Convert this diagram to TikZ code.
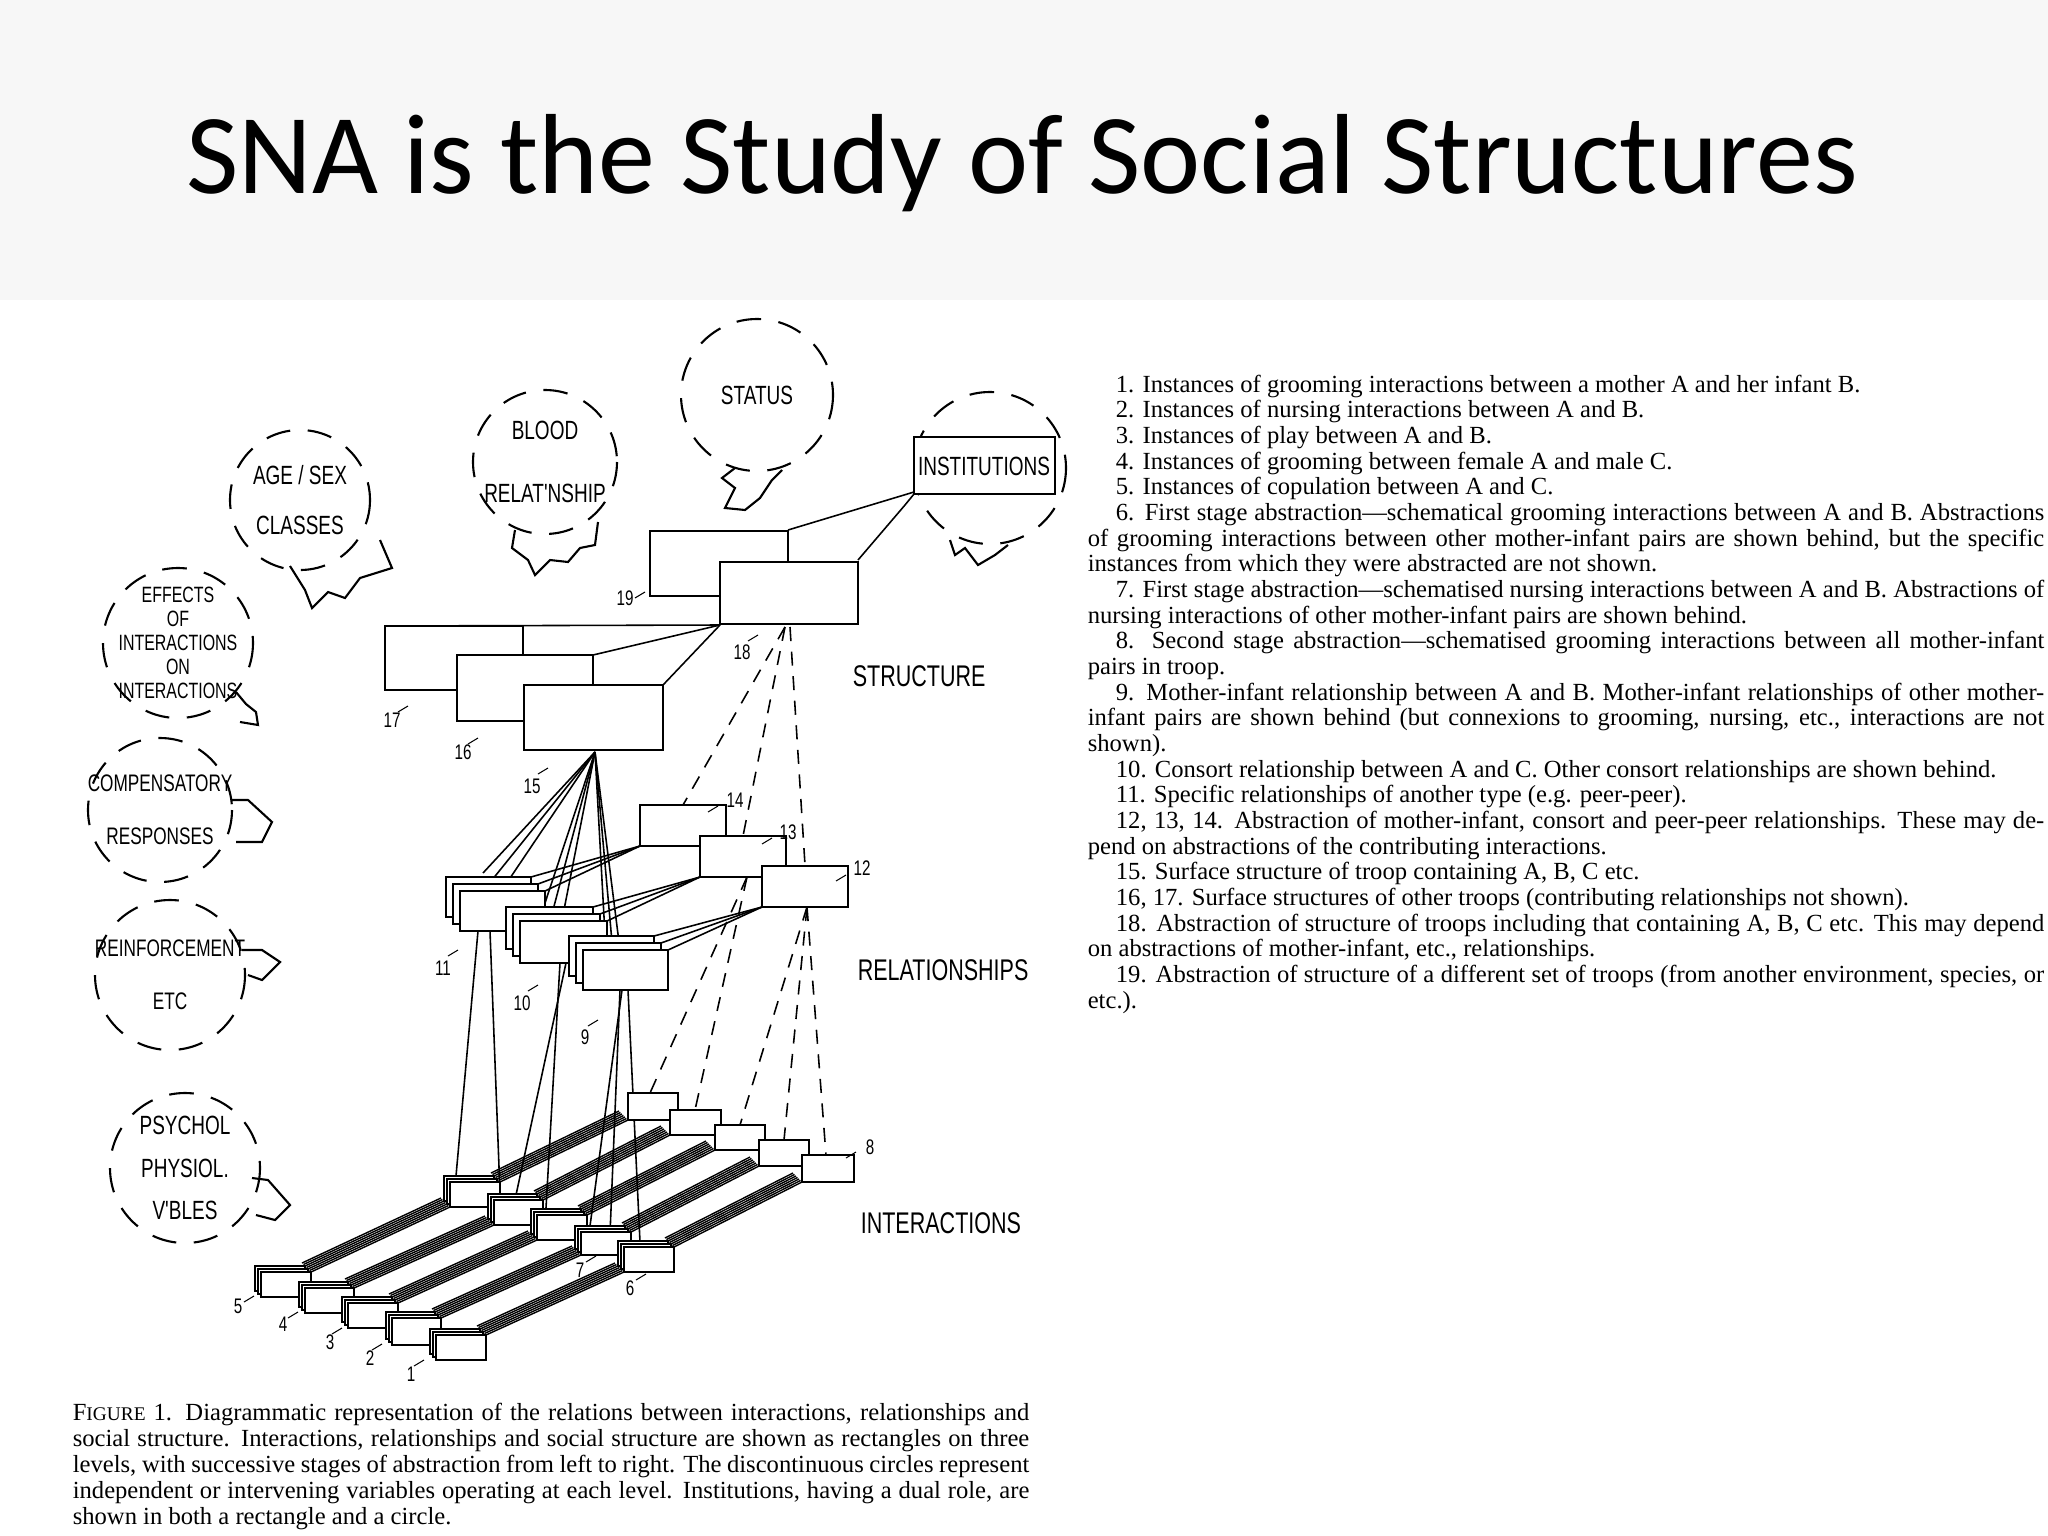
\documentclass[tikz,border=0pt]{standalone}
\usepackage{fontspec}
\setmainfont{Liberation Serif}
\newfontfamily\titlefont{Carlito}
\newfontfamily\hand[FakeStretch=0.72]{Liberation Sans}
\begin{document}
\begin{tikzpicture}[x=0.01cm,y=-0.01cm,line width=0.45pt,
  bub/.style={dashed,dash pattern=on 7pt off 5pt,line width=0.6pt},
  bx/.style={draw,fill=white},
  dl/.style={dashed,dash pattern=on 4pt off 3pt},
  lab/.style={font=\hand\fontsize{7.5}{8}\selectfont,inner sep=0pt,align=center},
  num/.style={font=\hand\fontsize{6}{6}\selectfont,inner sep=0pt}]
\useasboundingbox[fill=white] (0,0) rectangle (2048,1536);
\fill[black!3] (0,0) rectangle (2048,300);
\node[font=\titlefont\fontsize{32.4}{34}\selectfont,anchor=base] (title) at (1022,193) {SNA is the Study of Social Structures};
% ---------- bubbles ----------
\newcommand\bubble[5]{\draw[bub] (#1,#2) circle[radius=#3];\node[lab,#5] at (#1,#2) {#4};}
\bubble{300}{500}{70}{AGE / SEX\\[6pt]CLASSES}{}
\bubble{545}{462}{72}{BLOOD\\[10pt]RELAT'NSHIP}{}
\bubble{757}{395}{76}{STATUS}{}
\bubble{990}{468}{76}{}{}
\bubble{178}{643}{75}{EFFECTS\\OF\\INTERACTIONS\\ON\\INTERACTIONS}{font=\hand\fontsize{6.3}{6.8}\selectfont}
\bubble{160}{810}{72}{COMPENSATORY\\[8pt]RESPONSES}{font=\hand\fontsize{6.8}{7}\selectfont}
\bubble{170}{975}{75}{REINFORCEMENT\\[8pt]ETC}{font=\hand\fontsize{6.8}{7}\selectfont}
\bubble{185}{1168}{75}{PSYCHOL\\[4pt]PHYSIOL.\\[4pt]V'BLES}{}
\draw[bx] (914,437) rectangle (1055,494);
\node[lab] (inst) at (984,466) {INSTITUTIONS};
% tails
\begin{scope}[line width=0.6pt]
\draw (290,566)--(305,590)--(312,608)--(328,592)--(345,598)--(360,578)--(392,568)--(380,540);
\draw (515,530)--(512,548)--(528,560)--(535,575)--(550,560)--(568,562)--(580,548)--(595,545)--(598,522);
\draw (735,468)--(722,478)--(735,488)--(725,508)--(745,510)--(760,498)--(772,480)--(782,470);
\draw (950,540)--(955,555)--(965,548)--(978,565)--(995,555)--(1008,545);
\draw (236,692)--(246,704)--(256,712)--(258,725)--(240,722);
\draw (232,800)--(248,800)--(272,822)--(262,842)--(236,842);
\draw (242,950)--(262,950)--(280,962)--(262,980)--(248,975);
\draw (252,1178)--(268,1180)--(290,1205)--(275,1220)--(256,1215);
\end{scope}
% ---------- structure ----------
\draw (788,530)--(914,492);
\draw (858,560)--(905,505)--(914,494);
\draw[bx] (650,531) rectangle (788,596);
\draw[bx] (720,562) rectangle (858,624);
\draw (385,626)--(720,625);
\draw[bx] (385,626) rectangle (523,690);
\draw (523,626)--(523,655);
\draw (457,655)--(593,655)--(720,625);
\draw[bx] (457,655) rectangle (593,721);
\draw (593,655)--(593,685);
\draw (663,685)--(720,625);
\draw[bx] (524,685) rectangle (663,750);
% dashed from 18
\draw[dl] (785,627)--(683,805);
\draw[dl] (785,627)--(743,836);
\draw[dl] (790,627)--(805,865);
% dashed down to interactions
\draw[dl] (747,877)--(650,1093);
\draw[dl] (747,877)--(695,1110);
\draw[dl] (807,907)--(740,1125);
\draw[dl] (807,907)--(784,1140);
\draw[dl] (807,907)--(826,1155);
% lines from 15 to relationship stacks
\foreach \x/\y in {483/873,492/880,502/890,545/903,553/910,562/920,605/935,612/942,620/950}
  \draw (595,752)--(\x,\y);
% stacks to 14/13/12
\foreach \k in {0,1,2}{
  \draw (545-14+7*\k,931-14+7*\k) ++(0,-40) --(640,846);
  \draw (607-14+7*\k,963-14+7*\k) ++(0,-42) --(700,877);
  \draw (668-14+7*\k,990-14+7*\k) ++(0,-40) --(762,907);}
% relationship boxes
\draw[bx] (640,805) rectangle (726,846);
\draw[bx] (700,836) rectangle (786,877);
\draw[bx] (762,866) rectangle (848,907);
\newcommand\stk[5]{\foreach \k in {2,1,0}{\draw[bx] (#1-#5*\k,#2-#5*\k) rectangle (#3-#5*\k,#4-#5*\k);}}
\stk{460}{891}{545}{931}{7}
\stk{520}{921}{607}{963}{7}
\stk{583}{950}{668}{990}{7}
% relationships to interactions
\draw (478,931)--(456,1176);
\draw (490,931)--(500,1193);
\draw (560,963)--(546,1208);
\draw (566,963)--(516,1195);
\draw (622,990)--(590,1226);
\draw (628,990)--(640,1242);
\draw (620,990)--(610,1234);
% ---------- interactions ----------
\newcommand\bund[4]{\foreach \k in {0,...,6}{\draw[line width=0.4pt] (#1-1.5*\k,#2-1.5*\k)--(#3-1.5*\k,#4-1.5*\k);}}
\bund{500}{1182}{628}{1120}
\bund{543}{1200}{670}{1135}
\bund{587}{1215}{715}{1150}
\bund{631}{1232}{759}{1166}
\bund{674}{1247}{802}{1182}
\bund{311}{1272}{450}{1207}
\bund{354}{1288}{494}{1225}
\bund{398}{1303}{537}{1240}
\bund{441}{1318}{581}{1255}
\bund{486}{1335}{624}{1272}
\draw[bx] (628,1093) rectangle (678,1120);
\draw[bx] (670,1110) rectangle (721,1135);
\draw[bx] (715,1125) rectangle (765,1150);
\draw[bx] (759,1140) rectangle (809,1166);
\draw[bx] (802,1155) rectangle (854,1182);
\stk{450}{1182}{500}{1207}{3}
\stk{494}{1200}{543}{1225}{3}
\stk{537}{1215}{587}{1240}{3}
\stk{581}{1232}{631}{1255}{3}
\stk{624}{1247}{674}{1272}{3}
\stk{261}{1272}{311}{1297}{3}
\stk{305}{1288}{354}{1313}{3}
\stk{348}{1303}{398}{1328}{3}
\stk{392}{1318}{441}{1345}{3}
\stk{436}{1335}{486}{1360}{3}
% numbers
\foreach \n/\x/\y/\a/\b in {19/625/598/645/592,18/742/652/758/635,17/392/720/408/706,16/463/752/478/738,15/532/786/548/768,14/735/800/718/806,13/788/832/772/838,12/862/868/846/875,11/443/968/458/950,10/522/1003/538/985,9/585/1037/598/1020,8/870/1147/856/1152,7/580/1270/596/1256,6/630/1288/646/1274,5/238/1306/254/1296,4/283/1324/298/1312,3/330/1342/342/1328,2/370/1358/382/1344,1/411/1374/424/1360}
 {\node[num] (n\n) at (\x,\y) {\n}; \draw[line width=0.3pt] (\a,\b)--++(-10,6);}
\node[lab,anchor=west,font=\hand\fontsize{8.5}{9}\selectfont] (st) at (852,676) {STRUCTURE};
\node[lab,anchor=west,font=\hand\fontsize{8.5}{9}\selectfont] (re) at (857,970) {RELATIONSHIPS};
\node[lab,anchor=west,font=\hand\fontsize{8.5}{9}\selectfont] (in) at (860,1223) {INTERACTIONS};
% ---------- right text ----------
\node[anchor=north west,inner sep=0pt,text width=272pt,align=justify,font=\fontsize{7}{7.3}\selectfont] (list) at (1087,374) {%
\setlength\parindent{8pt}%
\hspace*{8pt}1. Instances of grooming interactions between a mother A and her infant B.\par
2. Instances of nursing interactions between A and B.\par
3. Instances of play between A and B.\par
4. Instances of grooming between female A and male C.\par
5. Instances of copulation between A and C.\par
6. First stage abstraction---schematical grooming interactions between A and B. Abstractions of grooming interactions between other mother-infant pairs are shown behind, but the specific instances from which they were abstracted are not shown.\par
7. First stage abstraction---schematised nursing interactions between A and B. Abstractions of nursing interactions of other mother-infant pairs are shown behind.\par
8. Second stage abstraction---schematised grooming interactions between all mother-infant pairs in troop.\par
9. Mother-infant relationship between A and B. Mother-infant relationships of other mother-infant pairs are shown behind (but connexions to grooming, nursing, etc., interactions are not shown).\par
10. Consort relationship between A and C. Other consort relationships are shown behind.\par
11. Specific relationships of another type (e.g. peer-peer).\par
12, 13, 14. Abstraction of mother-infant, consort and peer-peer relationships. These may depend on abstractions of the contributing interactions.\par
15. Surface structure of troop containing A, B, C etc.\par
16, 17. Surface structures of other troops (contributing relationships not shown).\par
18. Abstraction of structure of troops including that containing A, B, C etc. This may depend on abstractions of mother-infant, etc., relationships.\par
19. Abstraction of structure of a different set of troops (from another environment, species, or etc.).\par};
% ---------- caption ----------
\node[anchor=north west,inner sep=0pt,text width=272pt,align=justify,font=\fontsize{7}{7.45}\selectfont] (cap) at (72,1402) {%
F{\fontsize{5.5}{6}\selectfont IGURE} 1. Diagrammatic representation of the relations between interactions, relationships and social structure. Interactions, relationships and social structure are shown as rectangles on three levels, with successive stages of abstraction from left to right. The discontinuous circles represent independent or intervening variables operating at each level. Institutions, having a dual role, are shown in both a rectangle and a circle.};
\end{tikzpicture}
\end{document}
